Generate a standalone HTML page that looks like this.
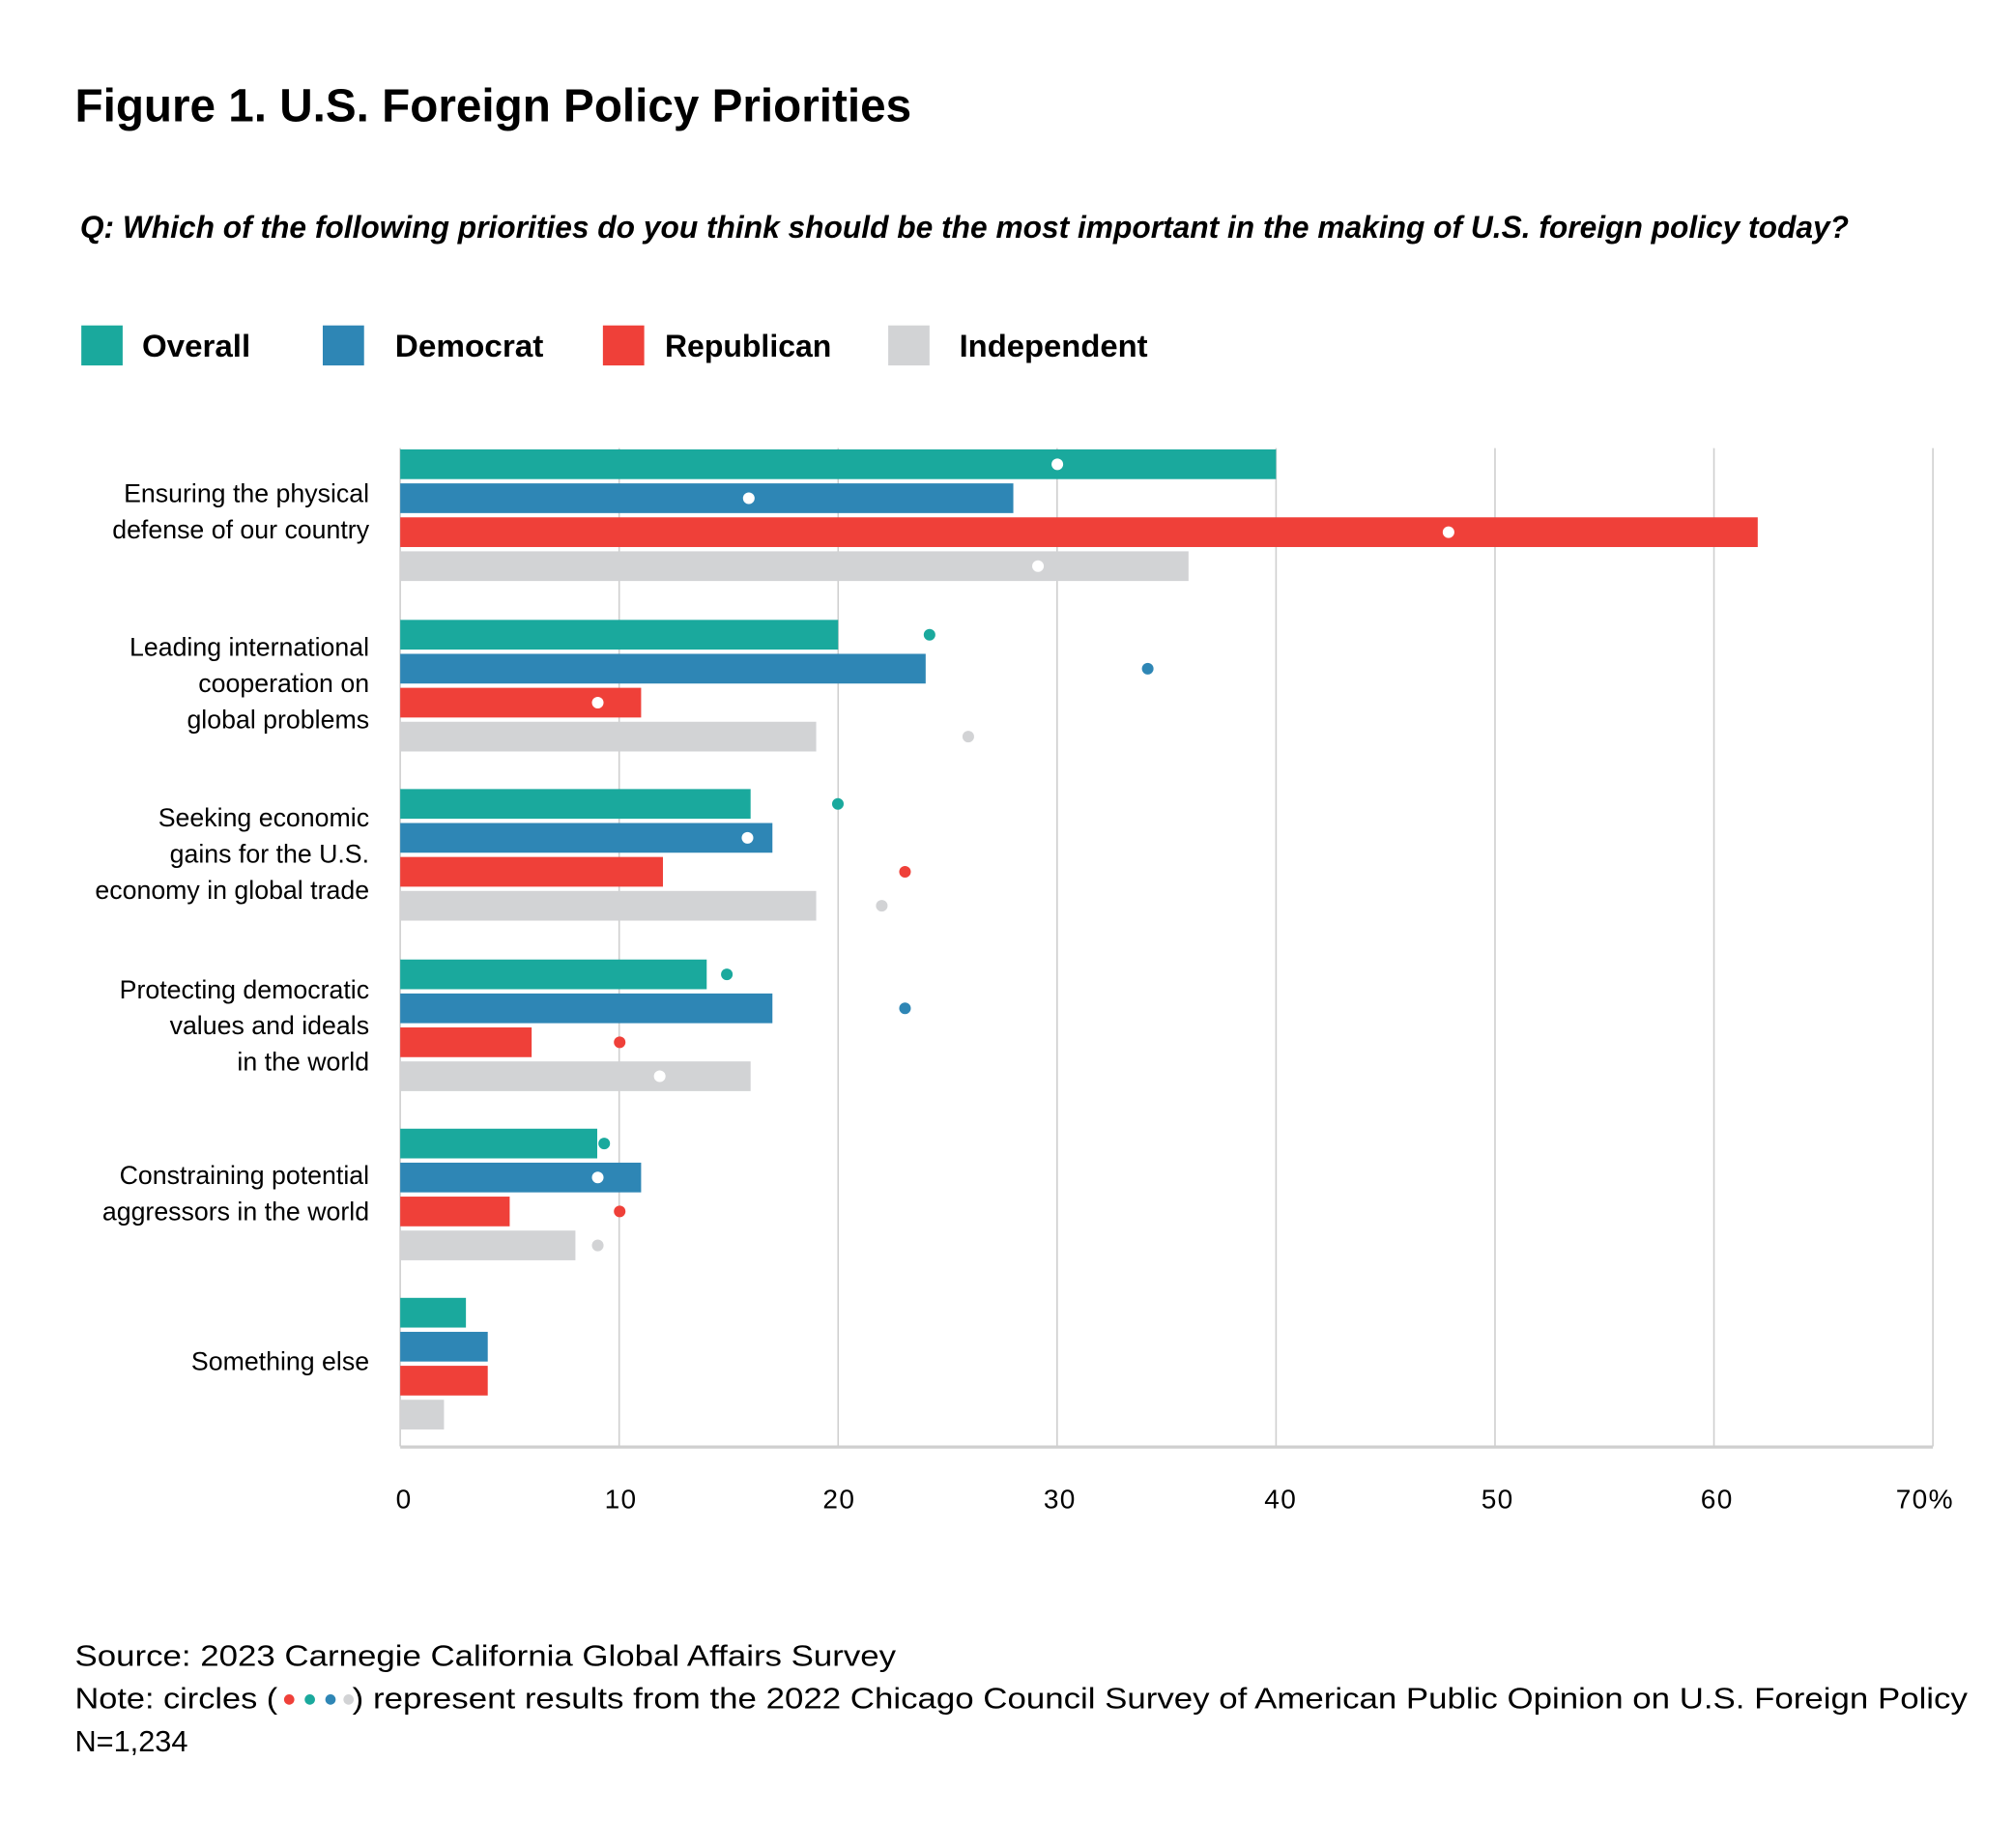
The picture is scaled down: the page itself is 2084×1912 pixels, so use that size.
<!DOCTYPE html>
<html><head><meta charset="utf-8"><style>html,body{margin:0;padding:0;background:#fff}svg{display:block}</style></head>
<body>
<svg width="2084" height="1912" viewBox="0 0 1560 1431" preserveAspectRatio="none" xmlns="http://www.w3.org/2000/svg" font-family="Liberation Sans, sans-serif">
<rect width="1560" height="1431" fill="#fff"/>
<text x="58" y="94" font-size="36" font-weight="bold" textLength="648" lengthAdjust="spacingAndGlyphs" fill="#000">Figure 1. U.S. Foreign Policy Priorities</text>
<text x="62" y="184" font-size="24" font-weight="bold" font-style="italic" textLength="1370" lengthAdjust="spacingAndGlyphs" fill="#000">Q: Which of the following priorities do you think should be the most important in the making of U.S. foreign policy today?</text>
<g font-size="24" font-weight="bold" fill="#000">
<rect x="63" y="252" width="32" height="31" fill="#1aa99d"/><text x="110" y="276" textLength="84" lengthAdjust="spacingAndGlyphs">Overall</text>
<rect x="250" y="252" width="32" height="31" fill="#2e86b5"/><text x="306" y="276" textLength="115" lengthAdjust="spacingAndGlyphs">Democrat</text>
<rect x="467" y="252" width="32" height="31" fill="#ef4039"/><text x="515" y="276" textLength="129" lengthAdjust="spacingAndGlyphs">Republican</text>
<rect x="688" y="252" width="32" height="31" fill="#d2d3d5"/><text x="743" y="276" textLength="146" lengthAdjust="spacingAndGlyphs">Independent</text>
</g>
<g stroke="#cfcfcf" stroke-width="1.2">
<line x1="310" y1="347" x2="310" y2="1120"/>
<line x1="479.6" y1="347" x2="479.6" y2="1120"/>
<line x1="649.2" y1="347" x2="649.2" y2="1120"/>
<line x1="818.8" y1="347" x2="818.8" y2="1120"/>
<line x1="988.4" y1="347" x2="988.4" y2="1120"/>
<line x1="1158" y1="347" x2="1158" y2="1120"/>
<line x1="1327.6" y1="347" x2="1327.6" y2="1120"/>
<line x1="1497.2" y1="347" x2="1497.2" y2="1120"/>
</g>
<line x1="310" y1="1120.5" x2="1497.2" y2="1120.5" stroke="#cfcfcf" stroke-width="2.5"/>
<g>
<rect x="310" y="348" width="678.4" height="23" fill="#1aa99d"/>
<rect x="310" y="374.3" width="474.9" height="23" fill="#2e86b5"/>
<rect x="310" y="400.6" width="1051.5" height="23" fill="#ef4039"/>
<rect x="310" y="426.9" width="610.6" height="23" fill="#d2d3d5"/>
<rect x="310" y="480" width="339.2" height="23" fill="#1aa99d"/>
<rect x="310" y="506.3" width="407" height="23" fill="#2e86b5"/>
<rect x="310" y="532.6" width="186.6" height="23" fill="#ef4039"/>
<rect x="310" y="558.9" width="322.2" height="23" fill="#d2d3d5"/>
<rect x="310" y="611" width="271.4" height="23" fill="#1aa99d"/>
<rect x="310" y="637.3" width="288.3" height="23" fill="#2e86b5"/>
<rect x="310" y="663.6" width="203.5" height="23" fill="#ef4039"/>
<rect x="310" y="689.9" width="322.2" height="23" fill="#d2d3d5"/>
<rect x="310" y="743" width="237.4" height="23" fill="#1aa99d"/>
<rect x="310" y="769.3" width="288.3" height="23" fill="#2e86b5"/>
<rect x="310" y="795.6" width="101.8" height="23" fill="#ef4039"/>
<rect x="310" y="821.9" width="271.4" height="23" fill="#d2d3d5"/>
<rect x="310" y="874" width="152.6" height="23" fill="#1aa99d"/>
<rect x="310" y="900.3" width="186.6" height="23" fill="#2e86b5"/>
<rect x="310" y="926.6" width="84.8" height="23" fill="#ef4039"/>
<rect x="310" y="952.9" width="135.7" height="23" fill="#d2d3d5"/>
<rect x="310" y="1005" width="50.9" height="23" fill="#1aa99d"/>
<rect x="310" y="1031.3" width="67.8" height="23" fill="#2e86b5"/>
<rect x="310" y="1057.6" width="67.8" height="23" fill="#ef4039"/>
<rect x="310" y="1083.9" width="33.9" height="23" fill="#d2d3d5"/>
</g>
<g>
<circle cx="819" cy="359.5" r="4.5" fill="#fff"/>
<circle cx="580" cy="385.8" r="4.5" fill="#fff"/>
<circle cx="1122" cy="412.1" r="4.5" fill="#fff"/>
<circle cx="804" cy="438.4" r="4.5" fill="#fff"/>
<circle cx="720" cy="491.5" r="4.5" fill="#1aa99d"/>
<circle cx="889" cy="517.8" r="4.5" fill="#2e86b5"/>
<circle cx="463" cy="544.1" r="4.5" fill="#fff"/>
<circle cx="750" cy="570.4" r="4.5" fill="#d2d3d5"/>
<circle cx="649" cy="622.5" r="4.5" fill="#1aa99d"/>
<circle cx="579" cy="648.8" r="4.5" fill="#fff"/>
<circle cx="701" cy="675.1" r="4.5" fill="#ef4039"/>
<circle cx="683" cy="701.4" r="4.5" fill="#d2d3d5"/>
<circle cx="563" cy="754.5" r="4.5" fill="#1aa99d"/>
<circle cx="701" cy="780.8" r="4.5" fill="#2e86b5"/>
<circle cx="480" cy="807.1" r="4.5" fill="#ef4039"/>
<circle cx="511" cy="833.4" r="4.5" fill="#fff"/>
<circle cx="468" cy="885.5" r="4.5" fill="#1aa99d"/>
<circle cx="463" cy="911.8" r="4.5" fill="#fff"/>
<circle cx="480" cy="938.1" r="4.5" fill="#ef4039"/>
<circle cx="463" cy="964.4" r="4.5" fill="#d2d3d5"/>
</g>
<g font-size="20" text-anchor="end" fill="#000">
<text x="286" y="389">Ensuring the physical</text>
<text x="286" y="417">defense of our country</text>
<text x="286" y="508">Leading international</text>
<text x="286" y="536">cooperation on</text>
<text x="286" y="564">global problems</text>
<text x="286" y="640">Seeking economic</text>
<text x="286" y="668">gains for the U.S.</text>
<text x="286" y="696">economy in global trade</text>
<text x="286" y="773">Protecting democratic</text>
<text x="286" y="801">values and ideals</text>
<text x="286" y="829">in the world</text>
<text x="286" y="917">Constraining potential</text>
<text x="286" y="945">aggressors in the world</text>
<text x="286" y="1061">Something else</text>
</g>
<g font-size="21" text-anchor="middle" fill="#000" letter-spacing="1">
<text x="313" y="1168">0</text>
<text x="481" y="1168">10</text>
<text x="650" y="1168">20</text>
<text x="821" y="1168">30</text>
<text x="992" y="1168">40</text>
<text x="1160" y="1168">50</text>
<text x="1330" y="1168">60</text>
<text x="1491" y="1168">70%</text>
</g>
<g font-size="23" fill="#000">
<text x="58" y="1290" textLength="636" lengthAdjust="spacingAndGlyphs">Source: 2023 Carnegie California Global Affairs Survey</text>
<text x="58" y="1323" textLength="157" lengthAdjust="spacingAndGlyphs">Note: circles (</text>
<text x="273" y="1323" textLength="1251" lengthAdjust="spacingAndGlyphs">) represent results from the 2022 Chicago Council Survey of American Public Opinion on U.S. Foreign Policy</text>
<text x="58" y="1356">N=1,234</text>
</g>
<circle cx="224" cy="1316" r="4" fill="#ef4039"/>
<circle cx="240" cy="1316" r="4" fill="#1aa99d"/>
<circle cx="256" cy="1316" r="4" fill="#2e86b5"/>
<circle cx="270" cy="1316" r="4" fill="#d2d3d5"/>
</svg>
</body></html>
